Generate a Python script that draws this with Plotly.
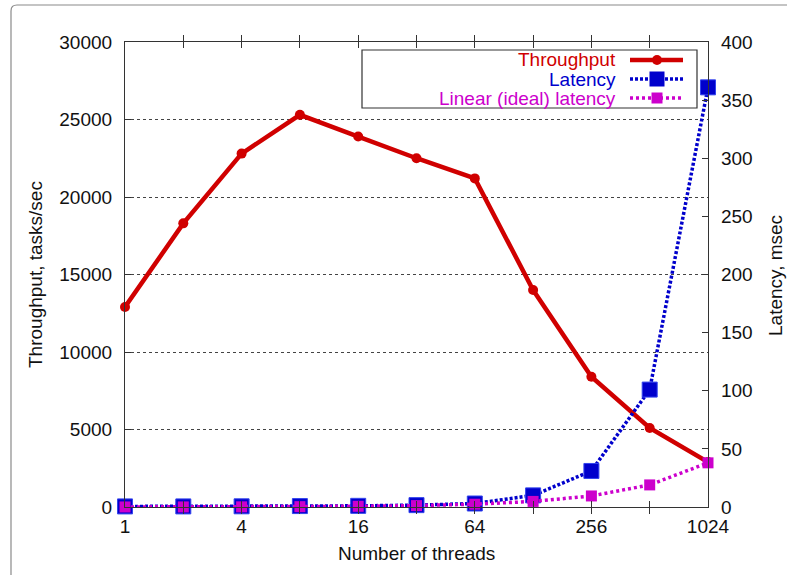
import plotly.graph_objects as go

threads = [1, 2, 4, 8, 16, 32, 64, 128, 256, 512, 1024]
throughput = [12900, 18300, 22800, 25300, 23900, 22500, 21200, 14000, 8400, 5100, 2900]
latency = [0.5, 0.5, 0.6, 0.8, 1.0, 1.6, 3.0, 10, 31, 101, 361]
linear_latency = [0.04, 0.07, 0.15, 0.3, 0.6, 1.2, 2.4, 4.8, 9.5, 19, 38]

x_tickvals = [1, 2, 4, 8, 16, 32, 64, 128, 256, 512, 1024]
x_ticktext = ["1", "", "4", "", "16", "", "64", "", "256", "", "1024"]
y_tickvals = [0, 5000, 10000, 15000, 20000, 25000, 30000]
y_ticktext = ["0", "5000", "10000", "15000", "20000", "25000", "30000"]
y2_tickvals = [0, 50, 100, 150, 200, 250, 300, 350, 400]

RED = "#d00000"
BLUE = "#0000cc"
MAG = "#cc00cc"
FONT = "Liberation Sans, Arial, sans-serif"
FS = 19

W, H = 787, 575
# plot area in screenshot pixels: x 125..708, y 42..507
PL, PR, PT, PB = 125, 708, 42, 507
L, T = PL, PT
PW, PH = PR - PL, PB - PT
R, B = W - L - PW, H - T - PH


def px(xp):
    return (xp - PL) / PW


def py(yp):
    return (PB - yp) / PH


fig = go.Figure()
fig.add_trace(go.Scatter(
    x=threads, y=throughput, name="Throughput", yaxis="y",
    mode="lines+markers", line=dict(color=RED, width=4.5),
    marker=dict(symbol="circle", size=10, color=RED), cliponaxis=False))
fig.add_trace(go.Scatter(
    x=threads, y=latency, name="Latency", yaxis="y2",
    mode="lines+markers", line=dict(color=BLUE, width=3.5, dash="3px,2px"),
    marker=dict(symbol="square", size=15, color=BLUE, line=dict(color="#3344ee", width=1)),
    cliponaxis=False))
fig.add_trace(go.Scatter(
    x=threads, y=linear_latency, name="Linear (ideal) latency", yaxis="y2",
    mode="lines+markers", line=dict(color=MAG, width=3.5, dash="3px,3px"),
    marker=dict(symbol="square", size=11, color=MAG), cliponaxis=False))

shapes = []
annotations = []

# outer image border (top and left visible)
shapes.append(dict(type="path", xref="paper", yref="paper",
                   path="M {x0},{y0} L {x0},{y1} Q {x0},{y2} {x1},{y2} L {x2},{y2}".format(
                       x0=px(11), y0=py(600), y1=py(11), y2=py(5), x1=px(17), x2=px(800)),
                   line=dict(color="#8a8a8a", width=1.2), layer="below"))

# legend box
shapes.append(dict(type="rect", xref="paper", yref="paper",
                   x0=px(362), x1=px(697), y0=py(108), y1=py(50),
                   line=dict(color="#333", width=1.2), fillcolor="white", layer="above"))

legend_items = [
    ("Throughput", RED, 60, "solid", 4.5, "circle", 10),
    ("Latency", BLUE, 79, "3px,2px", 3.5, "square", 15),
    ("Linear (ideal) latency", MAG, 98, "3px,3px", 3.5, "square", 11),
]
for text, col, yc, dash, lw, sym, ms in legend_items:
    annotations.append(dict(text=text, xref="paper", yref="paper",
                            x=px(618), y=py(yc), xanchor="right", yanchor="middle",
                            showarrow=False, font=dict(family=FONT, size=FS, color=col)))
    shapes.append(dict(type="line", xref="paper", yref="paper",
                       x0=px(630), x1=px(683), y0=py(yc), y1=py(yc),
                       line=dict(color=col, width=lw, dash=dash), layer="above"))
    h = ms / 2
    stype = "circle" if sym == "circle" else "rect"
    shapes.append(dict(type=stype, xref="paper", yref="paper",
                       x0=px(657 - h), x1=px(657 + h), y0=py(yc + h), y1=py(yc - h),
                       fillcolor=col, line=dict(color=col, width=0), layer="above"))

# axis titles
annotations.append(dict(text="Throughput, tasks/sec", xref="paper", yref="paper",
                        x=px(35), y=py(275), textangle=-90, showarrow=False,
                        xanchor="center", yanchor="middle", borderpad=0,
                        font=dict(family=FONT, size=FS, color="#111")))
annotations.append(dict(text="Latency, msec", xref="paper", yref="paper",
                        x=px(775), y=py(275), textangle=-90, showarrow=False,
                        xanchor="center", yanchor="middle", borderpad=0,
                        font=dict(family=FONT, size=FS, color="#111")))
annotations.append(dict(text="Number of threads", xref="paper", yref="paper",
                        x=px(416), y=py(553), showarrow=False,
                        xanchor="center", yanchor="middle", borderpad=0,
                        font=dict(family=FONT, size=FS, color="#111")))

fig.update_layout(
    width=W, height=H,
    margin=dict(l=L, r=R, t=T, b=B, autoexpand=False),
    paper_bgcolor="white", plot_bgcolor="white",
    showlegend=False,
    font=dict(family=FONT, size=FS, color="#111"),
    xaxis=dict(type="log", range=[0, 3.0103], tickvals=x_tickvals, ticktext=x_ticktext,
               ticks="inside", ticklen=6, tickcolor="#333", showgrid=False, zeroline=False,
               showline=True, linecolor="#333", linewidth=1.2, mirror="allticks",
               ticklabelstandoff=2),
    yaxis=dict(range=[0, 30000], tickvals=y_tickvals, ticktext=y_ticktext,
               ticks="inside", ticklen=6, tickcolor="#333", showgrid=True, gridcolor="#444",
               griddash="dot", gridwidth=1, zeroline=False,
               showline=True, linecolor="#333", linewidth=1.2, mirror=True,
               ticklabelstandoff=8),
    yaxis2=dict(range=[0, 400], tickvals=y2_tickvals, overlaying="y", side="right",
                ticks="inside", ticklen=6, tickcolor="#333", showgrid=False, zeroline=False,
                showline=True, linecolor="#333", linewidth=1.2,
                ticklabelstandoff=8),
    shapes=shapes, annotations=annotations,
)

fig.write_html("out.html", config={"displayModeBar": False},
               post_script="document.body.style.margin='0';document.body.style.overflow='hidden';")
